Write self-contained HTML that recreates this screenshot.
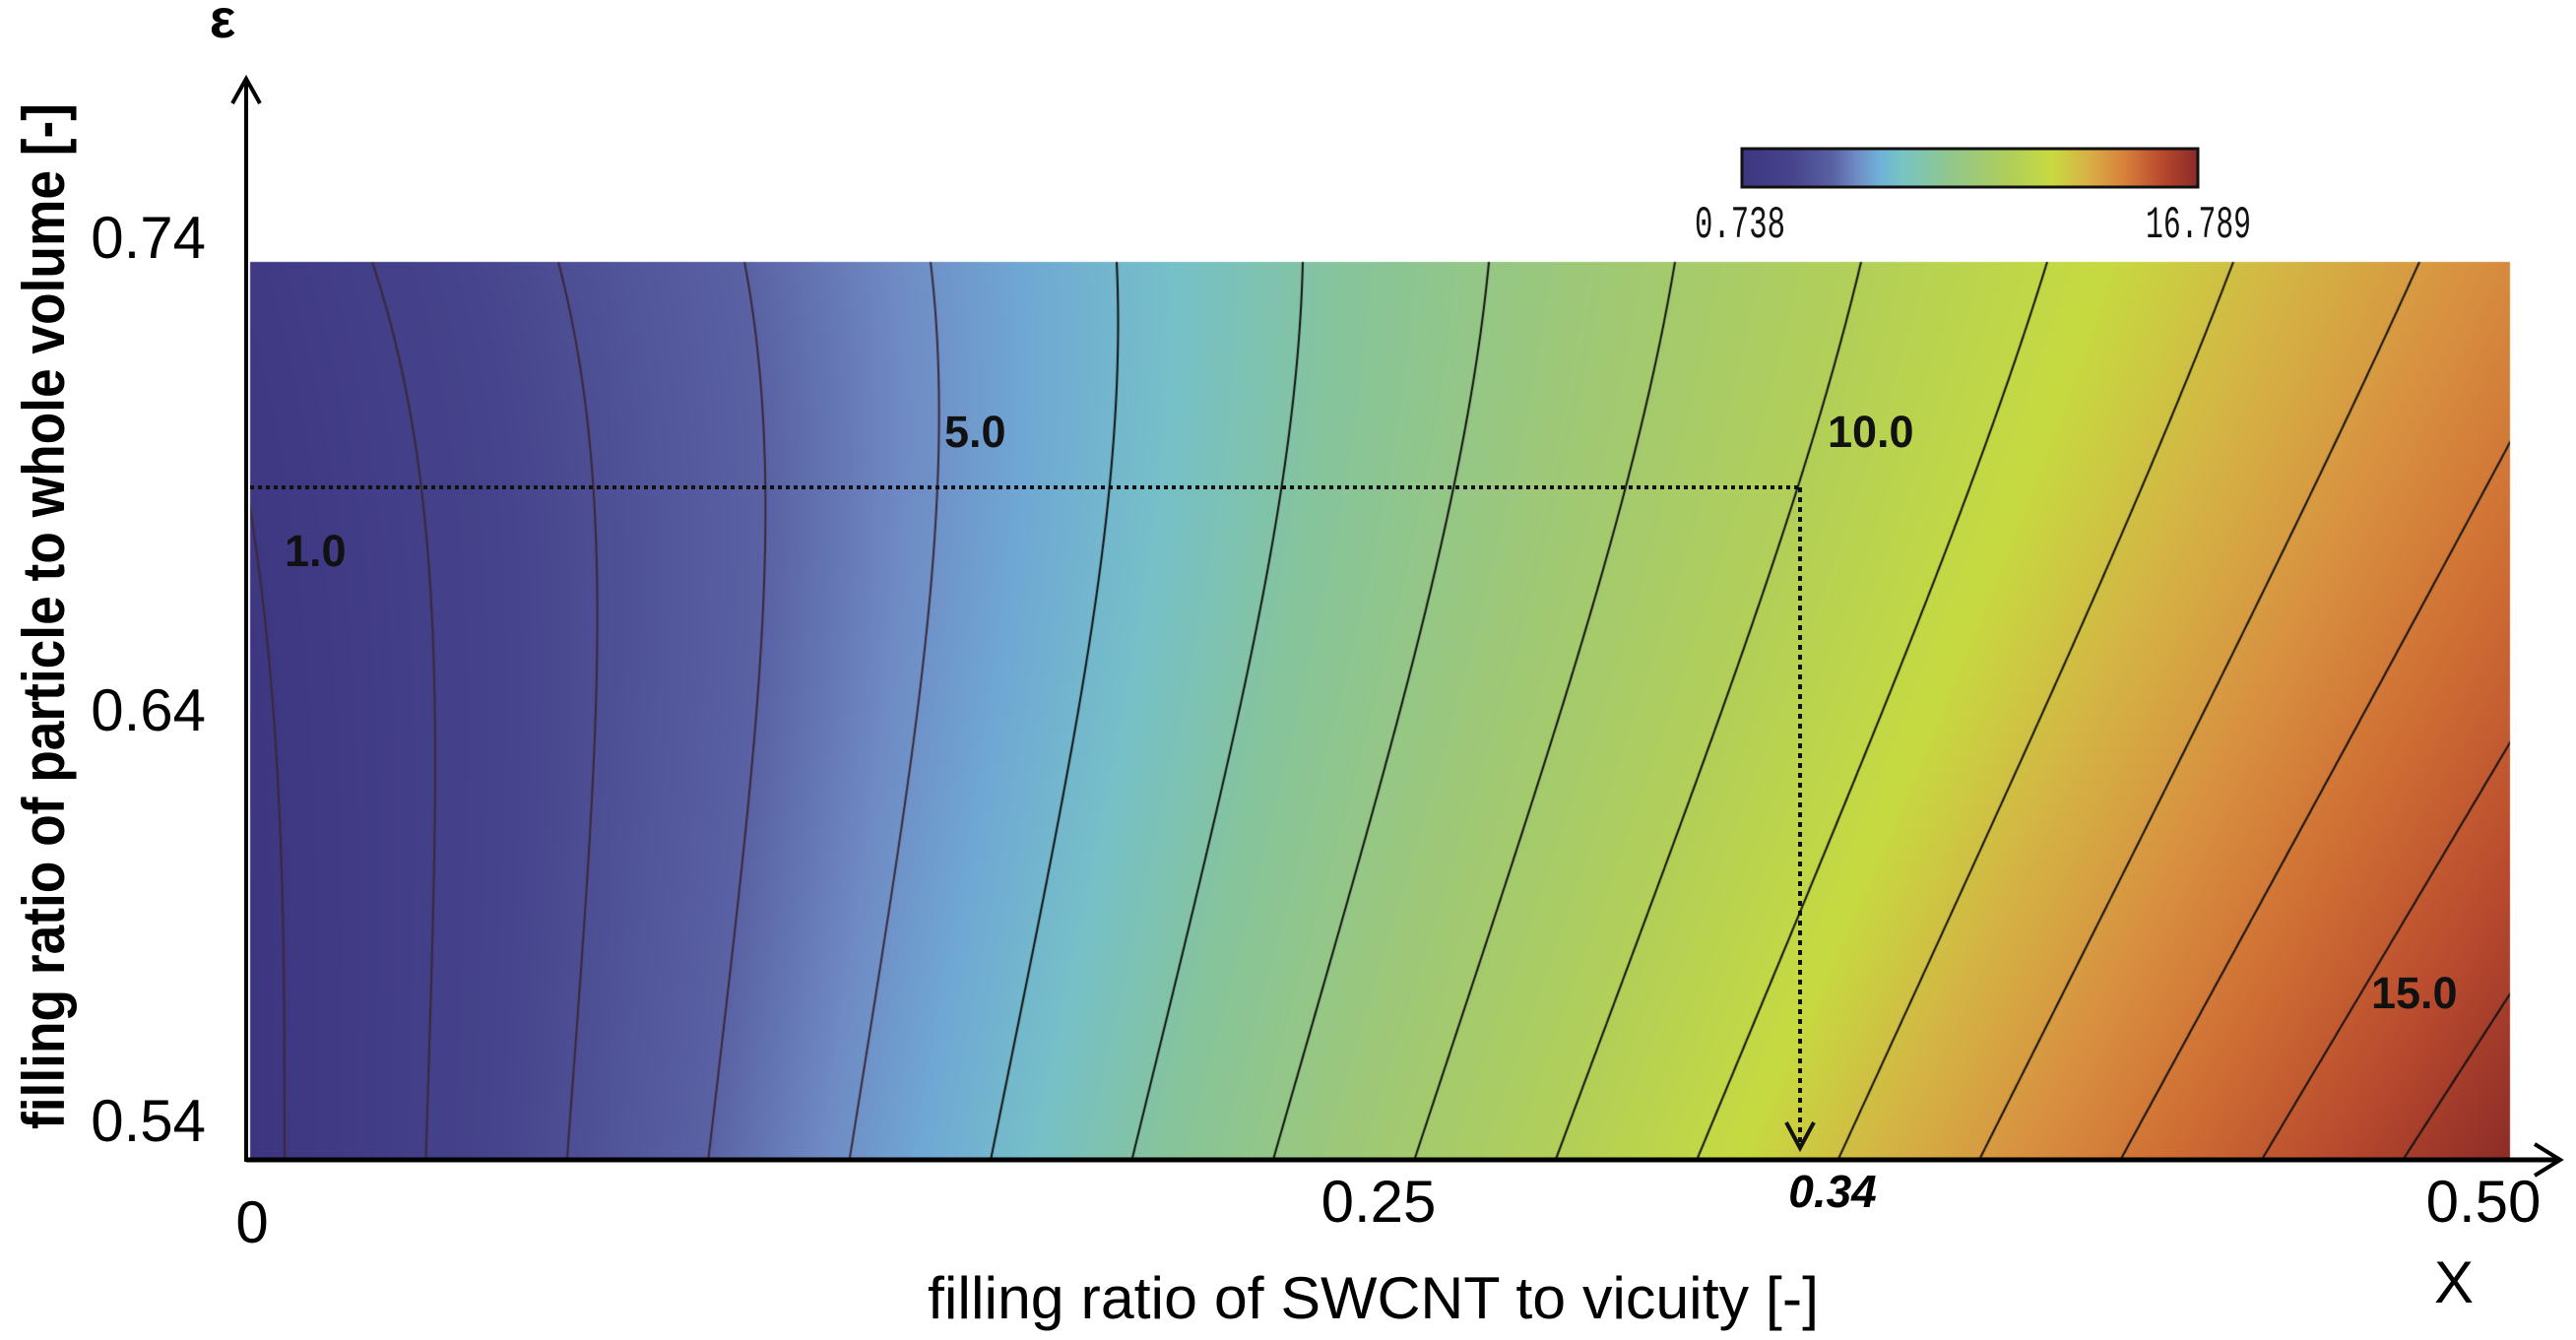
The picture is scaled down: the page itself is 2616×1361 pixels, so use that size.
<!DOCTYPE html>
<html><head><meta charset="utf-8"><style>
html,body{margin:0;padding:0;background:#fff;}
#wrap{position:relative;width:2616px;height:1361px;overflow:hidden;background:#fff;}
canvas,svg{position:absolute;left:0;top:0;}
</style></head><body><div id="wrap">
<canvas id="c" width="2616" height="1361"></canvas>
<svg width="2616" height="1361" viewBox="0 0 2616 1361" xmlns="http://www.w3.org/2000/svg">
<defs>
<linearGradient id="cb" x1="0" x2="1" y1="0" y2="0">
<stop offset="0" stop-color="#3d3580"/><stop offset="0.11" stop-color="#46448c"/>
<stop offset="0.2" stop-color="#5a62a4"/><stop offset="0.25" stop-color="#6f8ac4"/>
<stop offset="0.3" stop-color="#6fb0d8"/><stop offset="0.35" stop-color="#76c4c4"/>
<stop offset="0.45" stop-color="#90c690"/><stop offset="0.58" stop-color="#aece5c"/>
<stop offset="0.68" stop-color="#c8da40"/><stop offset="0.76" stop-color="#d8b046"/>
<stop offset="0.84" stop-color="#d8803a"/><stop offset="0.92" stop-color="#b84a2e"/>
<stop offset="1" stop-color="#8a2a28"/>
</linearGradient>
</defs>
<rect x="1769" y="151" width="463" height="39" fill="url(#cb)" stroke="#111" stroke-width="3"/>
<text x="1721" y="241" font-family="Liberation Mono, monospace" font-size="46" textLength="92" lengthAdjust="spacingAndGlyphs" fill="#111">0.738</text>
<text x="2179" y="241" font-family="Liberation Mono, monospace" font-size="46" textLength="107" lengthAdjust="spacingAndGlyphs" fill="#111">16.789</text>
<line x1="254" y1="495" x2="1828" y2="495" stroke="#111" stroke-width="4" stroke-dasharray="4 4"/>
<line x1="1828" y1="495" x2="1828" y2="1165" stroke="#111" stroke-width="4" stroke-dasharray="5 5"/>
<polyline points="1814,1140 1828,1166 1842,1140" fill="none" stroke="#111" stroke-width="4"/>
<line x1="250" y1="1178" x2="2600" y2="1178" stroke="#000" stroke-width="5"/>
<polyline points="2574,1162 2600,1178 2574,1194" fill="none" stroke="#000" stroke-width="4"/>
<line x1="250" y1="1180" x2="250" y2="80" stroke="#000" stroke-width="4"/>
<polyline points="236,105 250,80 264,105" fill="none" stroke="#000" stroke-width="4"/>
<g font-family="Liberation Sans, Arial, sans-serif" fill="#000">
<text x="226" y="38" font-size="56" font-weight="bold" text-anchor="middle">ε</text>
<text x="209" y="262" font-size="60" text-anchor="end">0.74</text>
<text x="209" y="742" font-size="60" text-anchor="end">0.64</text>
<text x="209" y="1159" font-size="60" text-anchor="end">0.54</text>
<text x="256" y="1262" font-size="60" text-anchor="middle">0</text>
<text x="1400" y="1241" font-size="60" text-anchor="middle">0.25</text>
<text x="2522" y="1241" font-size="60" text-anchor="middle">0.50</text>
<text x="1861" y="1226" font-size="46" font-weight="bold" font-style="italic" text-anchor="middle">0.34</text>
<text x="2492" y="1323" font-size="60" text-anchor="middle">X</text>
<text x="942" y="1339" font-size="60" textLength="905" lengthAdjust="spacingAndGlyphs">filling ratio of SWCNT to vicuity [-]</text>
<text transform="translate(65,1147) rotate(-90)" font-size="60" font-weight="bold" textLength="1042" lengthAdjust="spacingAndGlyphs">filling ratio of particle to whole volume [-]</text>
<g font-size="45" font-weight="bold" fill="#111">
<text x="289" y="575">1.0</text>
<text x="959" y="454">5.0</text>
<text x="1856" y="454">10.0</text>
<text x="2408" y="1024">15.0</text>
</g>
</g>
</svg>
</div>
<script>
(function(){
var cv=document.getElementById('c'),ctx=cv.getContext('2d');
var L=254,R=2549,T=266,B=1176,H=B-T;
function xk(k,t){
  if(k<=1){var base=289-35*Math.pow(t/0.725,3);return base-143.5*(1-k);}
  var xb=289+143.5*(k-1),xt=378+189*(k-2),b=Math.max(96-6.5*k,5),s=(xt-xb)+b;
  return xb+s*t-b*Math.pow(t,4);
}
var stops=[[0.74,[61,53,128]],[2.5,[70,68,140]],[4.0,[90,98,164]],[4.8,[111,138,196]],[5.5,[111,168,212]],[6.3,[118,192,200]],[7.2,[134,196,156]],[8.5,[158,200,120]],[10,[178,207,88]],[11.3,[198,218,64]],[12.3,[212,180,68]],[13.3,[216,144,64]],[14.3,[207,110,52]],[15.5,[184,74,46]],[16.8,[138,42,40]]];
function col(v){
  if(v<=stops[0][0])return stops[0][1];
  for(var i=1;i<stops.length;i++){if(v<=stops[i][0]){var a=stops[i-1],b=stops[i],f=(v-a[0])/(b[0]-a[0]);return [a[1][0]+(b[1][0]-a[1][0])*f,a[1][1]+(b[1][1]-a[1][1])*f,a[1][2]+(b[1][2]-a[1][2])*f];}}
  return stops[stops.length-1][1];
}
var W=R-L;var img=ctx.createImageData(W,H);var d=img.data;
for(var y=0;y<H;y++){
  var t=(B-(T+y))/H;var xs=[];for(var k=0;k<=18;k++)xs.push(xk(k,t));
  var k=0;
  for(var x=0;x<W;x++){
    var px=L+x;
    while(k<17&&px>=xs[k+1])k++;
    var v=k+(px-xs[k])/(xs[k+1]-xs[k]);
    if(v<0.74)v=0.74;
    var c=col(v);var i=(y*W+x)*4;d[i]=c[0];d[i+1]=c[1];d[i+2]=c[2];d[i+3]=255;
  }
}
ctx.putImageData(img,L,T);
ctx.save();ctx.beginPath();ctx.rect(L,T,W,H);ctx.clip();
ctx.lineWidth=2;
for(var k=1;k<=17;k++){
  ctx.strokeStyle=k<=5?'#3a2838':'#111';
  ctx.beginPath();
  for(var j=0;j<=200;j++){var t=j/200;var x=xk(k,t),y=B-H*t;if(j==0)ctx.moveTo(x,y);else ctx.lineTo(x,y);}
  ctx.stroke();
}
ctx.restore();
})();
</script>
</body></html>
